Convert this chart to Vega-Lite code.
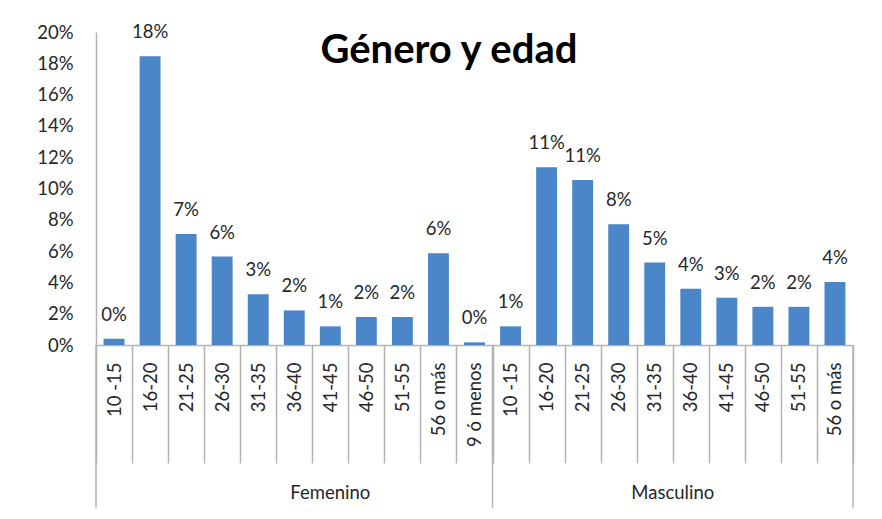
{
  "$schema": "https://vega.github.io/schema/vega-lite/v6.json",
  "autosize": "none",
  "width": 757,
  "height": 313,
  "padding": {"left": 96, "top": 32, "right": 29, "bottom": 174},
  "background": "white",
  "config": {
    "view": {"stroke": null},
    "font": "Lato",
    "text": {"font": "Lato"},
    "axisY": {
      "labelOverlap": false,
      "ticks": false,
      "grid": false,
      "format": ".0%",
      "labelFont": "Lato",
      "labelFontSize": 18.5,
      "labelColor": "#262626",
      "labelPadding": 23,
      "domainColor": "#b3b3b3",
      "domainWidth": 1.5
    },
    "axisX": {"labelOverlap": false}
  },
  "data": {
    "values": [
      {"gender": "Femenino", "age": "10 -15", "key": "F|10 -15", "value": 0.004},
      {"gender": "Femenino", "age": "16-20", "key": "F|16-20", "value": 0.1845},
      {"gender": "Femenino", "age": "21-25", "key": "F|21-25", "value": 0.071},
      {"gender": "Femenino", "age": "26-30", "key": "F|26-30", "value": 0.0565},
      {"gender": "Femenino", "age": "31-35", "key": "F|31-35", "value": 0.0325},
      {"gender": "Femenino", "age": "36-40", "key": "F|36-40", "value": 0.0221},
      {"gender": "Femenino", "age": "41-45", "key": "F|41-45", "value": 0.0119},
      {"gender": "Femenino", "age": "46-50", "key": "F|46-50", "value": 0.0179},
      {"gender": "Femenino", "age": "51-55", "key": "F|51-55", "value": 0.0179},
      {"gender": "Femenino", "age": "56 o más", "key": "F|56 o más", "value": 0.0587},
      {"gender": "Femenino", "age": "9 ó menos", "key": "F|9 ó menos", "value": 0.0017},
      {"gender": "Masculino", "age": "10 -15", "key": "M|10 -15", "value": 0.0119},
      {"gender": "Masculino", "age": "16-20", "key": "M|16-20", "value": 0.1135},
      {"gender": "Masculino", "age": "21-25", "key": "M|21-25", "value": 0.1054},
      {"gender": "Masculino", "age": "26-30", "key": "M|26-30", "value": 0.0772},
      {"gender": "Masculino", "age": "31-35", "key": "M|31-35", "value": 0.0527},
      {"gender": "Masculino", "age": "36-40", "key": "M|36-40", "value": 0.0359},
      {"gender": "Masculino", "age": "41-45", "key": "M|41-45", "value": 0.0302},
      {"gender": "Masculino", "age": "46-50", "key": "M|46-50", "value": 0.0244},
      {"gender": "Masculino", "age": "51-55", "key": "M|51-55", "value": 0.0244},
      {"gender": "Masculino", "age": "56 o más", "key": "M|56 o más", "value": 0.0402}
    ]
  },
  "encoding": {
    "x": {
      "field": "key",
      "type": "nominal",
      "sort": null,
      "scale": {"paddingInner": 0, "paddingOuter": 0},
      "axis": {
        "title": null,
        "labelExpr": "split(datum.label, '|')[1]",
        "labelAngle": -90,
        "labelFont": "Lato",
        "labelFontSize": 18.5,
        "labelColor": "#262626",
        "labelPadding": -101,
        "labelOverlap": false,
        "tickBand": "extent",
        "tickSize": 118,
        "tickColor": "#b3b3b3",
        "tickWidth": 1.5,
        "domainColor": "#b3b3b3",
        "domainWidth": 1.5,
        "grid": false
      }
    }
  },
  "layer": [
    {
      "mark": {"type": "bar", "width": {"band": 0.58}, "color": "#4a86c8"},
      "encoding": {
        "y": {
          "field": "value",
          "type": "quantitative",
          "scale": {"domain": [0, 0.2], "nice": false},
          "axis": {
            "title": null,
            "labelOverlap": false,
            "values": [0, 0.02, 0.04, 0.06, 0.08, 0.1, 0.12, 0.14, 0.16, 0.18, 0.2]
          }
        }
      }
    },
    {
      "mark": {"type": "text", "baseline": "middle", "dy": -24, "fontSize": 18.5, "font": "Lato", "color": "#262626"},
      "encoding": {
        "y": {"field": "value", "type": "quantitative", "axis": {"title": null, "labelOverlap": false, "values": [0, 0.02, 0.04, 0.06, 0.08, 0.1, 0.12, 0.14, 0.16, 0.18, 0.2]}},
        "text": {"field": "value", "type": "quantitative", "format": ".0%"}
      }
    },
    {
      "transform": [{"filter": "datum.key == 'F|56 o más'"}],
      "mark": {"type": "text", "baseline": "alphabetic", "align": "center", "fontSize": 40, "fontWeight": "bold", "font": "Lato", "color": "#000000"},
      "encoding": {
        "x": {"datum": "F|56 o más", "bandPosition": 0.79},
        "y": {"datum": 0.1802, "axis": {"title": null, "labelOverlap": false, "values": [0, 0.02, 0.04, 0.06, 0.08, 0.1, 0.12, 0.14, 0.16, 0.18, 0.2]}},
        "text": {"value": "Género y edad"}
      }
    },
    {
      "transform": [{"filter": "datum.age == '10 -15'"}],
      "mark": {"type": "rule", "color": "#b3b3b3", "strokeWidth": 1.5, "clip": false},
      "encoding": {
        "x": {"field": "key", "type": "nominal", "sort": null, "bandPosition": 0},
        "y": {"datum": 0, "axis": {"title": null, "labelOverlap": false, "values": [0, 0.02, 0.04, 0.06, 0.08, 0.1, 0.12, 0.14, 0.16, 0.18, 0.2]}},
        "y2": {"datum": -0.104}
      }
    },
    {
      "transform": [{"filter": "datum.key == 'M|56 o más'"}],
      "mark": {"type": "rule", "color": "#b3b3b3", "strokeWidth": 1.5, "clip": false},
      "encoding": {
        "x": {"field": "key", "type": "nominal", "sort": null, "bandPosition": 1},
        "y": {"datum": 0, "axis": {"title": null, "labelOverlap": false, "values": [0, 0.02, 0.04, 0.06, 0.08, 0.1, 0.12, 0.14, 0.16, 0.18, 0.2]}},
        "y2": {"datum": -0.104}
      }
    },
    {
      "transform": [{"filter": "datum.key == 'F|41-45'"}],
      "mark": {"type": "text", "baseline": "middle", "fontSize": 18.5, "font": "Lato", "color": "#262626"},
      "encoding": {
        "x": {"field": "key", "type": "nominal", "sort": null, "bandPosition": 0.5},
        "y": {"datum": -0.0945, "axis": {"title": null, "labelOverlap": false, "values": [0, 0.02, 0.04, 0.06, 0.08, 0.1, 0.12, 0.14, 0.16, 0.18, 0.2]}},
        "text": {"field": "gender"}
      }
    },
    {
      "transform": [{"filter": "datum.key == 'M|31-35'"}],
      "mark": {"type": "text", "baseline": "middle", "fontSize": 18.5, "font": "Lato", "color": "#262626"},
      "encoding": {
        "x": {"field": "key", "type": "nominal", "sort": null, "bandPosition": 1},
        "y": {"datum": -0.0945, "axis": {"title": null, "labelOverlap": false, "values": [0, 0.02, 0.04, 0.06, 0.08, 0.1, 0.12, 0.14, 0.16, 0.18, 0.2]}},
        "text": {"field": "gender"}
      }
    }
  ]
}
